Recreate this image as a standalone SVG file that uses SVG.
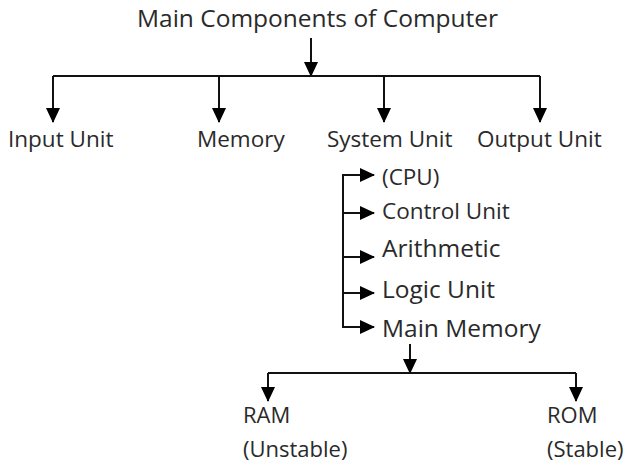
<svg xmlns="http://www.w3.org/2000/svg" width="627" height="466" viewBox="0 0 627 466">
<style>
text{font-family:"Open Sans","Noto Sans","DejaVu Sans",sans-serif;fill:#2a2a2a}
.t{font-size:24.5px}
.l{font-size:22.5px}
.s{font-size:22.5px}
.m{font-size:24.5px}
.r{font-size:22px}
.c line{stroke:#111;stroke-width:2;fill:none}
</style>
<defs>
<marker id="a" markerUnits="userSpaceOnUse" markerWidth="15" markerHeight="14" refX="14" refY="7" orient="auto" viewBox="0 0 15 14">
<path d="M0,0 L15,7 L0,14 Z" fill="#000"/>
</marker>
</defs>
<g class="c" id="connectors">
<line x1="311" y1="38" x2="311" y2="76" marker-end="url(#a)"/>
<line x1="53" y1="76" x2="540" y2="76"/>
<line x1="53" y1="76" x2="53" y2="122" marker-end="url(#a)"/>
<line x1="219" y1="76" x2="219" y2="122" marker-end="url(#a)"/>
<line x1="384" y1="76" x2="384" y2="122" marker-end="url(#a)"/>
<line x1="540" y1="76" x2="540" y2="122" marker-end="url(#a)"/>
<line x1="343" y1="175" x2="343" y2="328"/>
<line x1="342" y1="175" x2="374" y2="175" marker-end="url(#a)"/>
<line x1="342" y1="213" x2="374" y2="213" marker-end="url(#a)"/>
<line x1="342" y1="257" x2="374" y2="257" marker-end="url(#a)"/>
<line x1="342" y1="293" x2="374" y2="293" marker-end="url(#a)"/>
<line x1="342" y1="327" x2="374" y2="327" marker-end="url(#a)"/>
<line x1="410" y1="344" x2="410" y2="373" marker-end="url(#a)"/>
<line x1="268" y1="373" x2="576" y2="373"/>
<line x1="268" y1="373" x2="268" y2="401" marker-end="url(#a)"/>
<line x1="576" y1="373" x2="576" y2="401" marker-end="url(#a)"/>
</g>
<g id="title"><text class="t" x="137" y="27">Main Components of Computer</text></g>
<g id="input"><text class="l" x="8" y="147">Input Unit</text></g>
<g id="memory"><text class="l" x="197" y="147">Memory</text></g>
<g id="system"><text class="l" x="327" y="147">System Unit</text></g>
<g id="output"><text class="l" x="477" y="147">Output Unit</text></g>
<g id="cpu"><text class="s" x="382" y="185">(CPU)</text></g>
<g id="control"><text class="s" x="382" y="219">Control Unit</text></g>
<g id="arith"><text class="m" x="382" y="257">Arithmetic</text></g>
<g id="logic"><text class="m" x="382" y="298">Logic Unit</text></g>
<g id="mainmem"><text class="m" x="382" y="337">Main Memory</text></g>
<g id="ram"><text class="r" x="243" y="423">RAM</text><text class="r" x="243" y="457">(Unstable)</text></g>
<g id="rom"><text class="r" x="547" y="423">ROM</text><text class="r" x="547" y="457">(Stable)</text></g>
</svg>
